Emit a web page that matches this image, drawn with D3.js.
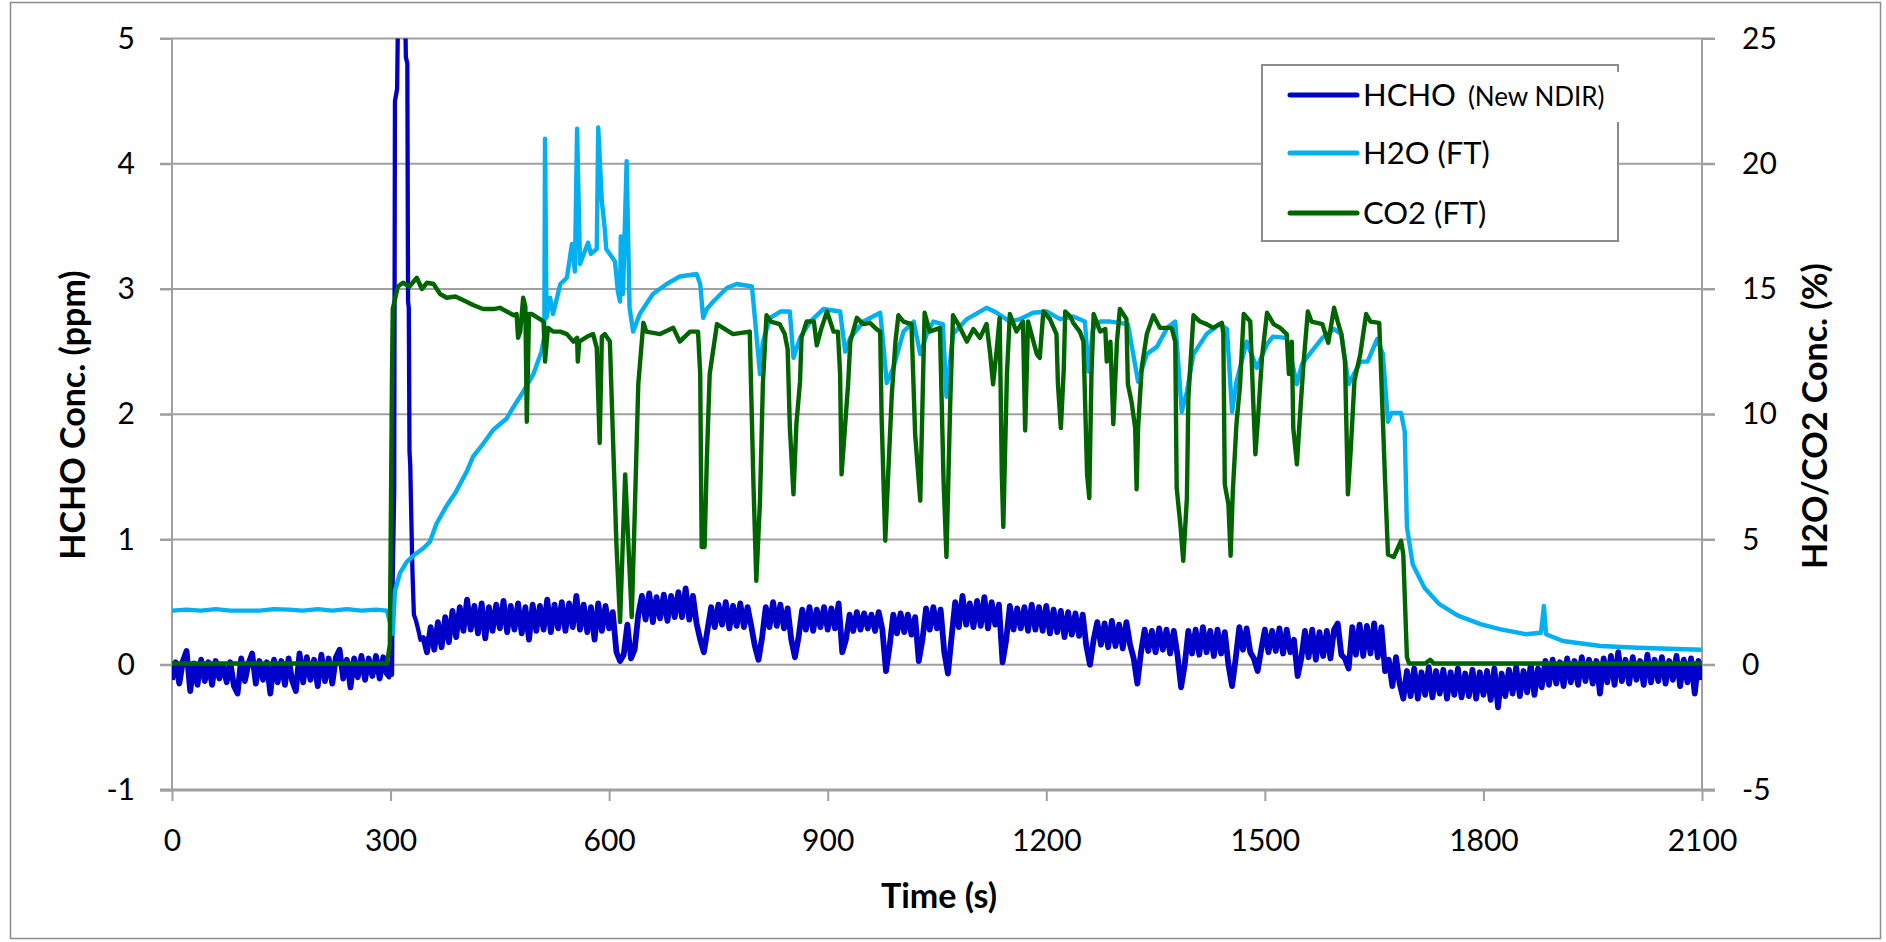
<!DOCTYPE html>
<html>
<head>
<meta charset="utf-8">
<script src="https://cdn.jsdelivr.net/npm/d3@7"></script>
<style>
  body { margin: 0; background: #fff; }
  text { font-family: Lato, "Open Sans", sans-serif; fill: #000; }
</style>
</head>
<body>
<div id="chart"></div>
<script>
// ---- data ----
var xTicks = [0, 300, 600, 900, 1200, 1500, 1800, 2100];
var leftTicks = [-1, 0, 1, 2, 3, 4, 5];
var rightTicks = [-5, 0, 5, 10, 15, 20, 25];

// HCHO (ppm), noisy signal, sampled every 5 s before and after the peak
var hchoPre = [ // t = 0 .. 295
  -0.12, 0.02, -0.15, 0.03, 0.11, -0.21, 0.01, -0.16, 0.04, -0.13,
  0.02, -0.16, 0.03, -0.11, 0.00, -0.14, 0.02, -0.17, -0.23, 0.05,
  -0.13, 0.01, 0.09, -0.15, 0.03, -0.12, 0.02, -0.23, 0.04, -0.14,
  0.03, -0.16, 0.05, -0.13, -0.21, 0.09, -0.14, 0.06, -0.12, 0.04,
  -0.17, 0.08, -0.13, 0.05, -0.15, 0.06, 0.12, -0.11, 0.04, -0.18,
  0.05, -0.10, 0.07, -0.12, 0.05, -0.09, 0.07, -0.11, 0.06, -0.08
];
var hchoPeak = [
  [298, -0.10], [300, 0.02], [302, -0.08], [303, 0.70], [305, 1.40], [306, 4.50],
  [309, 4.60], [311, 5.60], [319, 5.60], [321, 4.85], [323, 4.80], [324, 2.90],
  [325, 2.85], [326, 1.70], [327, 1.60], [328, 1.30], [330, 0.75], [332, 0.40],
  [335, 0.35], [338, 0.28], [341, 0.20]
];
var hchoPost = [ // t = 345 .. 2100
  0.22, 0.10, 0.30, 0.12, 0.34, 0.14, 0.38, 0.18, 0.43, 0.22,
  0.46, 0.27, 0.52, 0.28, 0.47, 0.25, 0.49, 0.21, 0.46, 0.27,
  0.48, 0.29, 0.51, 0.26, 0.47, 0.28, 0.49, 0.25, 0.46, 0.20,
  0.48, 0.27, 0.47, 0.28, 0.52, 0.26, 0.48, 0.29, 0.50, 0.27,
  0.49, 0.30, 0.55, 0.28, 0.48, 0.26, 0.46, 0.20, 0.49, 0.27,
  0.47, 0.29, 0.42, 0.10, 0.03, 0.08, 0.32, 0.05, 0.12, 0.40,
  0.55, 0.36, 0.57, 0.34, 0.54, 0.37, 0.56, 0.35, 0.55, 0.38,
  0.58, 0.38, 0.61, 0.36, 0.55, 0.33, 0.20, 0.10, 0.28, 0.46,
  0.30, 0.48, 0.32, 0.50, 0.29, 0.47, 0.31, 0.49, 0.30, 0.46,
  0.31, 0.15, 0.04, 0.22, 0.46, 0.30, 0.50, 0.31, 0.48, 0.29,
  0.45, 0.20, 0.06, 0.22, 0.44, 0.28, 0.46, 0.27, 0.44, 0.30,
  0.46, 0.28, 0.45, 0.29, 0.49, 0.10, 0.20, 0.40, 0.27, 0.42,
  0.28, 0.41, 0.29, 0.40, 0.27, 0.42, 0.28, -0.05, 0.15, 0.40,
  0.25, 0.41, 0.26, 0.40, 0.24, 0.38, 0.03, 0.20, 0.45, 0.28,
  0.46, 0.29, 0.44, 0.10, -0.07, 0.22, 0.50, 0.30, 0.55, 0.32,
  0.49, 0.30, 0.51, 0.31, 0.54, 0.29, 0.50, 0.32, 0.48, 0.02,
  0.20, 0.47, 0.28, 0.45, 0.29, 0.46, 0.27, 0.48, 0.28, 0.46,
  0.27, 0.47, 0.25, 0.44, 0.26, 0.43, 0.22, 0.42, 0.24, 0.41,
  0.23, 0.40, 0.15, 0.00, 0.20, 0.34, 0.16, 0.33, 0.14, 0.35,
  0.15, 0.32, 0.13, 0.34, 0.16, 0.05, -0.15, 0.10, 0.28, 0.11,
  0.27, 0.10, 0.29, 0.12, 0.28, 0.09, 0.27, 0.08, -0.18, 0.00,
  0.27, 0.09, 0.28, 0.08, 0.30, 0.10, 0.27, 0.07, 0.28, 0.09,
  0.26, 0.00, -0.17, 0.05, 0.30, 0.12, 0.29, 0.10, 0.05, -0.05,
  0.12, 0.28, 0.10, 0.27, 0.11, 0.29, 0.09, 0.28, 0.10, 0.20,
  -0.09, 0.05, 0.27, 0.06, 0.28, 0.04, 0.26, 0.07, 0.27, 0.05,
  0.28, 0.33, 0.08, 0.05, -0.03, 0.30, 0.08, 0.32, 0.07, 0.31,
  0.09, 0.33, 0.06, 0.30, -0.05, 0.04, -0.17, 0.06, -0.15, -0.27,
  -0.05, -0.25, -0.03, -0.27, -0.06, -0.24, -0.02, -0.26, -0.05, -0.23,
  -0.04, -0.27, -0.06, -0.24, -0.03, -0.26, -0.07, -0.25, -0.04, -0.27,
  -0.06, -0.24, -0.05, -0.28, -0.03, -0.34, -0.07, -0.25, -0.04, -0.23,
  -0.02, -0.25, -0.05, -0.22, 0.00, -0.24, -0.03, -0.18, 0.03, -0.16,
  0.04, -0.15, 0.02, -0.17, 0.05, -0.14, 0.03, -0.16, 0.06, -0.13,
  0.04, -0.15, 0.03, -0.23, 0.05, -0.14, 0.07, -0.16, 0.10, -0.13,
  0.04, -0.15, 0.06, -0.12, 0.03, -0.16, 0.08, -0.14, 0.04, -0.13,
  0.06, -0.15, 0.03, -0.12, 0.07, -0.17, 0.04, -0.14, 0.05, -0.23,
  0.03, -0.12
];

// H2O (FT), % , [time, value]
var h2o = [
  [0, 2.16], [20, 2.2], [40, 2.16], [60, 2.22], [80, 2.16], [120, 2.16], [140, 2.22],
  [160, 2.2], [180, 2.16], [200, 2.22], [220, 2.16], [240, 2.22], [260, 2.16], [280, 2.2],
  [295, 2.16], [300, 1.6], [303, 1.24], [306, 2.95], [313, 3.67], [322, 4.1], [331, 4.35],
  [345, 4.65], [354, 4.91], [363, 5.63], [377, 6.35], [389, 6.87], [405, 7.74], [413, 8.3],
  [427, 8.82], [441, 9.38], [452, 9.65], [459, 9.82], [468, 10.26], [482, 10.9], [496, 11.6],
  [507, 12.5], [511, 13.1], [512, 21.0], [514, 13.85], [519, 14.65], [523, 14.0], [533, 15.2],
  [542, 15.45], [549, 16.8], [553, 15.7], [556, 21.4], [560, 16.0], [571, 16.85], [575, 16.4],
  [583, 16.6], [585, 21.45], [590, 18.5], [594, 17.4], [596, 16.6], [608, 16.1], [612, 14.9],
  [615, 14.5], [616, 17.1], [619, 14.8], [624, 20.1], [628, 14.25], [633, 13.3], [642, 14.0],
  [660, 14.8], [679, 15.2], [697, 15.5], [720, 15.6], [725, 15.2], [729, 13.85], [734, 14.2],
  [743, 14.5], [762, 15.05], [775, 15.2], [796, 15.1], [800, 13.85], [807, 11.6], [811, 12.9],
  [821, 13.85], [835, 14.1], [848, 14.1], [853, 12.25], [862, 13.05], [876, 13.7], [894, 14.2],
  [917, 14.1], [924, 12.5], [931, 13.05], [949, 13.7], [972, 14.05], [976, 12.9], [981, 11.25],
  [990, 11.85], [1004, 13.3], [1018, 13.7], [1027, 12.4], [1036, 13.2], [1045, 13.7],
  [1058, 13.6], [1063, 10.7], [1072, 13.2], [1091, 13.8], [1118, 14.25], [1132, 14.05],
  [1150, 13.7], [1164, 13.8], [1182, 14.05], [1201, 14.1], [1219, 13.8], [1237, 13.9],
  [1253, 13.7], [1258, 11.7], [1264, 13.4], [1274, 13.7], [1288, 13.7], [1312, 13.6],
  [1326, 11.3], [1338, 12.4], [1352, 12.7], [1366, 13.45], [1377, 13.7], [1386, 10.1],
  [1393, 10.9], [1402, 12.4], [1420, 13.2], [1438, 13.6], [1448, 13.4], [1455, 10.1],
  [1461, 11.3], [1475, 12.9], [1489, 11.85], [1503, 12.8], [1511, 13.1], [1530, 13.05],
  [1544, 11.2], [1551, 12.0], [1564, 12.5], [1579, 13.05], [1595, 13.4], [1605, 13.2],
  [1615, 11.2], [1631, 12.1], [1641, 12.1], [1654, 13.0], [1662, 12.4], [1669, 9.7],
  [1674, 10.05], [1687, 10.05], [1692, 9.3], [1695, 5.5], [1703, 4.0], [1719, 3.07],
  [1739, 2.43], [1765, 1.96], [1796, 1.62], [1822, 1.42], [1858, 1.22], [1879, 1.28],
  [1883, 2.35], [1886, 1.22], [1909, 0.95], [1961, 0.75], [2012, 0.68], [2064, 0.63],
  [2100, 0.6]
];

// CO2 (FT), %, [time, value]
var co2 = [
  [0, 0.05], [295, 0.05], [299, 0.8], [302, 11.7], [303, 14.2], [310, 15.1], [317, 15.25],
  [326, 15.1], [336, 15.45], [343, 15.0], [350, 15.25], [359, 15.2], [368, 14.8], [377, 14.65],
  [389, 14.7], [400, 14.55], [414, 14.35], [427, 14.2], [441, 14.2], [450, 14.25], [469, 13.95],
  [473, 14.0], [475, 13.05], [478, 13.3], [482, 14.65], [485, 14.3], [487, 9.7], [490, 14.0],
  [494, 14.0], [505, 13.8], [510, 13.7], [512, 12.1], [516, 13.45], [523, 13.3], [533, 13.3],
  [542, 13.2], [551, 12.9], [556, 13.05], [557, 12.1], [559, 12.9], [570, 13.1], [578, 13.2],
  [583, 12.65], [587, 8.85], [590, 13.1], [594, 13.2], [601, 12.9], [606, 8.4], [610, 4.8],
  [615, 1.7], [622, 7.6], [631, 1.9], [635, 5.9], [640, 11.2], [647, 13.65], [651, 13.3],
  [670, 13.2], [688, 13.45], [697, 12.9], [711, 13.3], [722, 13.3], [725, 11.6], [727, 4.7],
  [731, 4.7], [734, 8.1], [738, 11.6], [748, 13.6], [770, 13.2], [793, 13.3], [798, 7.3],
  [802, 3.35], [807, 6.5], [811, 11.2], [816, 13.95], [822, 13.7], [834, 13.6], [841, 13.2],
  [845, 12.6], [848, 9.5], [853, 6.8], [857, 9.6], [862, 11.3], [864, 13.05], [871, 13.7],
  [881, 13.7], [885, 12.75], [891, 13.4], [899, 14.1], [908, 13.3], [914, 13.3], [917, 11.6],
  [919, 7.6], [924, 9.6], [928, 11.2], [931, 12.9], [940, 13.85], [949, 13.6], [958, 13.65],
  [967, 13.4], [972, 13.3], [974, 9.85], [979, 4.95], [983, 7.6], [988, 10.8], [993, 12.9],
  [997, 13.95], [1004, 13.7], [1015, 13.6], [1020, 9.2], [1027, 6.55], [1031, 11.6],
  [1033, 14.05], [1040, 13.3], [1054, 13.45], [1059, 7.35], [1063, 4.3], [1068, 10.3],
  [1072, 13.95], [1079, 13.6], [1091, 12.9], [1100, 13.4], [1109, 13.05], [1118, 13.6],
  [1123, 12.4], [1127, 11.2], [1132, 12.6], [1136, 13.85], [1139, 7.6], [1141, 5.5],
  [1146, 11.6], [1150, 14.0], [1159, 13.3], [1168, 13.7], [1171, 9.35], [1175, 13.7],
  [1187, 12.4], [1191, 12.25], [1196, 14.1], [1205, 13.8], [1214, 13.2], [1216, 11.2],
  [1220, 9.45], [1224, 11.8], [1226, 14.1], [1233, 13.9], [1237, 13.65], [1246, 13.3],
  [1251, 12.9], [1256, 7.6], [1259, 6.65], [1262, 11.6], [1265, 14.0], [1274, 13.3],
  [1281, 13.4], [1283, 12.1], [1288, 12.9], [1292, 9.6], [1297, 12.9], [1301, 14.2],
  [1310, 13.8], [1312, 11.2], [1317, 10.5], [1322, 9.45], [1324, 7.0], [1326, 9.45],
  [1331, 11.85], [1338, 13.2], [1347, 13.95], [1356, 13.45], [1372, 13.45], [1377, 12.9],
  [1379, 7.05], [1384, 5.6], [1388, 4.15], [1393, 6.65], [1395, 10.65], [1402, 13.95],
  [1411, 13.7], [1420, 13.6], [1429, 13.45], [1441, 13.65], [1443, 13.2], [1445, 7.2],
  [1450, 6.4], [1453, 4.35], [1456, 6.9], [1461, 9.6], [1466, 11.2], [1471, 14.0],
  [1480, 13.7], [1484, 10.55], [1487, 8.4], [1491, 10.0], [1496, 12.25], [1503, 14.05],
  [1512, 13.6], [1521, 13.45], [1530, 13.2], [1533, 11.6], [1537, 12.9], [1539, 9.45],
  [1544, 8.0], [1548, 9.85], [1553, 12.0], [1559, 14.1], [1564, 13.7], [1579, 13.6],
  [1587, 12.85], [1595, 14.25], [1600, 13.7], [1605, 13.2], [1610, 12.1], [1614, 6.8],
  [1618, 8.65], [1623, 11.35], [1631, 12.4], [1639, 14.0], [1645, 13.7], [1657, 13.65],
  [1662, 9.75], [1665, 7.35], [1669, 4.4], [1677, 4.3], [1687, 4.95], [1690, 4.4],
  [1695, 0.3], [1698, 0.05], [1720, 0.05], [1727, 0.2], [1732, 0.05], [2100, 0.05]
];

var legendNames = ["HCHO", "H2O (FT)", "CO2 (FT)"];
var legendNote = "(New NDIR)";

// ---- build hcho series ----
var hchoPreXY = hchoPre.map(function(v, i) { return [i * 5, v]; });
var hchoPostXY = hchoPost.map(function(v, i) { return [345 + i * 5, v]; });
var hcho = hchoPreXY.concat(hchoPeak).concat(hchoPostXY);

// ---- layout ----
var svgWidth = 1886, svgHeight = 942;
var plotLeft = 172, plotRight = 1702, plotTop = 38.5, plotBottom = 790;
var gridColor = "#a0a0a0";
var colors = ["#0000c8", "#00b0f0", "#006400"];

var svg = d3.select("#chart").append("svg")
  .attr("width", svgWidth)
  .attr("height", svgHeight);

// outer chart frame
svg.append("rect")
  .attr("x", 10.5).attr("y", 2.5)
  .attr("width", 1870).attr("height", 936)
  .attr("fill", "none")
  .attr("stroke", "#8c8c8c")
  .attr("stroke-width", 1.5);

var x = d3.scaleLinear().domain([0, 2100]).range([plotLeft, plotRight]);
var yL = d3.scaleLinear().domain([-1, 5]).range([plotBottom, plotTop]);
var yR = d3.scaleLinear().domain([-5, 25]).range([plotBottom, plotTop]);

// gridlines (run through the tick marks on both sides)
svg.append("g")
  .selectAll("line")
  .data(leftTicks)
  .enter()
  .append("line")
  .attr("x1", plotLeft - 12)
  .attr("x2", plotRight + 13)
  .attr("y1", function(d) { return yL(d); })
  .attr("y2", function(d) { return yL(d); })
  .attr("stroke", gridColor)
  .attr("stroke-width", function(d) { return d == -1 ? 3 : 2; });

// vertical axis lines
[plotLeft, plotRight].forEach(function(px) {
  svg.append("line")
    .attr("x1", px).attr("x2", px)
    .attr("y1", plotTop).attr("y2", plotBottom)
    .attr("stroke", gridColor)
    .attr("stroke-width", 2);
});

function styleAxis(g) {
  g.select(".domain").remove();
  g.selectAll(".tick line").attr("stroke", gridColor).attr("stroke-width", 2);
  g.selectAll(".tick text")
    .attr("font-family", "Lato, 'Open Sans', sans-serif")
    .attr("font-size", 30)
    .attr("fill", "#000");
  g.attr("font-family", null).attr("font-size", null);
}

var fmt = function(d) { return String(d); };

svg.append("g")
  .attr("transform", "translate(0," + plotBottom + ")")
  .call(d3.axisBottom(x).tickValues(xTicks).tickSize(11).tickPadding(29).tickFormat(fmt))
  .call(styleAxis);

svg.append("g")
  .attr("transform", "translate(" + plotLeft + ",0)")
  .call(d3.axisLeft(yL).tickValues(leftTicks).tickSize(12).tickPadding(25).tickFormat(fmt))
  .call(styleAxis);

svg.append("g")
  .attr("transform", "translate(" + plotRight + ",0)")
  .call(d3.axisRight(yR).tickValues(rightTicks).tickSize(13).tickPadding(27).tickFormat(fmt))
  .call(styleAxis);

// axis titles
svg.append("text")
  .attr("x", 939).attr("y", 908)
  .attr("text-anchor", "middle")
  .attr("font-size", 34).attr("font-weight", "bold")
  .text("Time (s)");

svg.append("text")
  .attr("transform", "translate(85,415) rotate(-90)")
  .attr("text-anchor", "middle")
  .attr("font-size", 34).attr("font-weight", "bold")
  .text("HCHO Conc. (ppm)");

svg.append("text")
  .attr("transform", "translate(1827,416) rotate(-90)")
  .attr("text-anchor", "middle")
  .attr("font-size", 34).attr("font-weight", "bold")
  .text("H2O/CO2 Conc. (%)");

// plot clip
svg.append("clipPath").attr("id", "plotclip")
  .append("rect")
  .attr("x", plotLeft).attr("y", plotTop)
  .attr("width", plotRight - plotLeft).attr("height", plotBottom - plotTop);

var plot = svg.append("g").attr("clip-path", "url(#plotclip)");

var lineL = d3.line().x(function(d) { return x(d[0]); }).y(function(d) { return yL(d[1]); });
var lineR = d3.line().x(function(d) { return x(d[0]); }).y(function(d) { return yR(d[1]); });

function drawLine(data, gen, color, w) {
  plot.append("path").datum(data)
    .attr("d", gen)
    .attr("fill", "none").attr("stroke", color)
    .attr("stroke-width", w).attr("stroke-linejoin", "round");
}

// HCHO: whole trace, then the noisy stretches a bit heavier so the band reads solid
drawLine(hcho, lineL, colors[0], 4.3);
drawLine(hchoPreXY, lineL, colors[0], 5.8);
drawLine(hchoPostXY, lineL, colors[0], 5.8);
drawLine(h2o, lineR, colors[1], 4.4);
drawLine(co2, lineR, colors[2], 4.4);

// legend
var legend = svg.append("g");
legend.append("rect")
  .attr("x", 1262).attr("y", 65)
  .attr("width", 356).attr("height", 176)
  .attr("fill", "#fff")
  .attr("stroke", "#8c8c8c")
  .attr("stroke-width", 2);
// small gap in the right border where the note runs over it
legend.append("rect")
  .attr("x", 1616).attr("y", 72)
  .attr("width", 5).attr("height", 50)
  .attr("fill", "#fff");

var rows = legend.selectAll("g.row")
  .data(legendNames)
  .enter()
  .append("g")
  .attr("class", "row")
  .attr("transform", function(d, i) { return "translate(0," + [95, 153, 213][i] + ")"; });

rows.append("line")
  .attr("x1", 1290).attr("x2", 1357)
  .attr("stroke", function(d, i) { return colors[i]; })
  .attr("stroke-width", 5)
  .attr("stroke-linecap", "round");

var labels = rows.append("text")
  .attr("x", 1363).attr("y", 11)
  .attr("font-size", 31)
  .text(function(d) { return d; });

labels.filter(function(d, i) { return i == 0; })
  .append("tspan")
  .attr("dx", 12)
  .attr("font-size", 26)
  .text(legendNote);
</script>
</body>
</html>
